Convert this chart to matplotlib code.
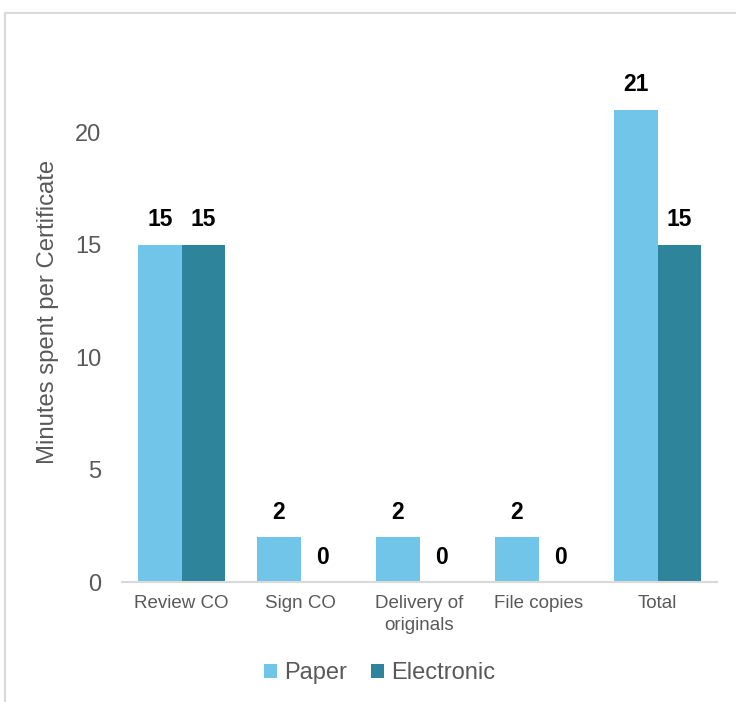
import matplotlib.pyplot as plt
from matplotlib.lines import Line2D
import numpy as np

plt.rcParams['font.family'] = ['Liberation Sans', 'DejaVu Sans']

categories = ['Review CO', 'Sign CO', 'Delivery of\noriginals', 'File copies', 'Total']
paper = [15, 2, 2, 2, 21]
electronic = [15, 0, 0, 0, 15]

paper_color = '#71C5E8'
elec_color = '#2E849B'
grid_color = '#D9D9D9'
text_color = '#595959'

fig = plt.figure(figsize=(7.36, 7.02), dpi=100)
ax = fig.add_axes([0.1658, 0.1709, 0.8084, 0.8006])

x = np.arange(len(categories))
w = 0.365
b1 = ax.bar(x - w / 2, paper, w, color=paper_color, label='Paper')
b2 = ax.bar(x + w / 2, electronic, w, color=elec_color, label='Electronic')

for bars, vals in [(b1, paper), (b2, electronic)]:
    for rect, v in zip(bars, vals):
        ax.annotate(str(v), (rect.get_x() + rect.get_width() / 2, v),
                    xytext=(0, 18), textcoords='offset points',
                    ha='center', va='center', fontsize=16.5, fontweight='bold',
                    color='black')

ax.set_xlim(-0.5, len(categories) - 0.5)
ax.set_ylim(0, 25)
ax.set_yticks([0, 5, 10, 15, 20])
ax.set_xticks(x)
ax.set_xticklabels(categories, fontsize=13.5, color=text_color, linespacing=1.4)
ax.tick_params(axis='x', length=0, pad=9)
ax.tick_params(axis='y', length=0, pad=15, labelsize=17, labelcolor=text_color)
ax.set_ylabel('Minutes spent per Certificate', fontsize=17.2, color=text_color)
ax.yaxis.set_label_coords(-0.106, 0.48)

for s in ['top', 'right', 'left']:
    ax.spines[s].set_visible(False)
ax.spines['bottom'].set_color(grid_color)
ax.spines['bottom'].set_linewidth(1.5)

fig.legend(handles=[b1, b2], loc='center', bbox_to_anchor=(0.516, 1 - 673 / 702),
           ncol=2, frameon=False, fontsize=17, handlelength=0.55, handleheight=0.55,
           handletextpad=0.3, columnspacing=1.0, labelcolor=text_color)

# outer frame lines (top and left only)
fig.add_artist(Line2D([5 / 736, 1], [1 - 13 / 702, 1 - 13 / 702], color=grid_color, lw=1.5))
fig.add_artist(Line2D([5 / 736, 5 / 736], [0, 1 - 13 / 702], color=grid_color, lw=1.5))

fig.savefig('out.png', dpi=100)
